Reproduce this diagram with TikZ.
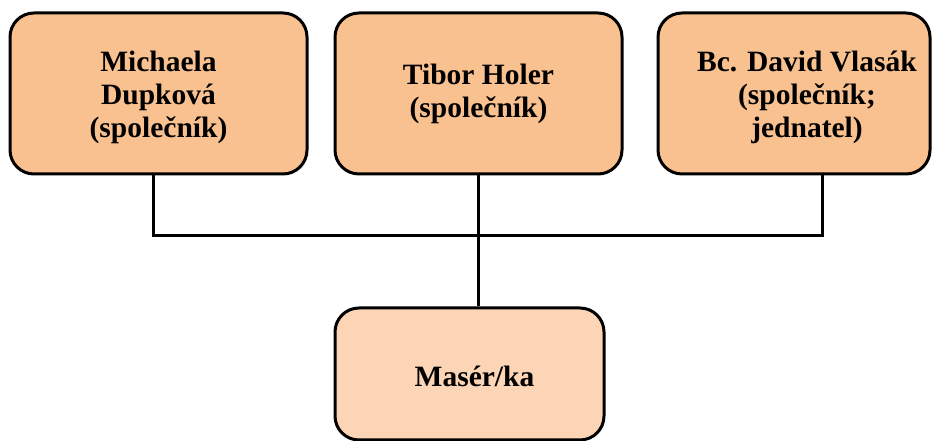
\documentclass[tikz,border=0pt]{standalone}
\usepackage{fontspec}
\setmainfont{Liberation Serif}
\definecolor{topfill}{HTML}{F9C18F}
\definecolor{botfill}{HTML}{FBD5B5}
\begin{document}
\begin{tikzpicture}[x=1pt,y=1pt,
  box/.style={draw=black, line width=3pt, rounded corners=24pt, inner sep=0pt},
  txt/.style={inner sep=0pt, align=center, font=\fontsize{29.5}{33}\selectfont\bfseries},
  conn/.style={draw=black, line width=3pt}]
\useasboundingbox (0,0) rectangle (936,441);
\node[box, fill=topfill, minimum width=297pt, minimum height=161pt] (b1) at (158.5,347.5) {};
\node[box, fill=topfill, minimum width=287pt, minimum height=161pt] (b2) at (478.5,347.5) {};
\node[box, fill=topfill, minimum width=272pt, minimum height=161pt] (b3) at (794,347.5) {};
\node[box, fill=botfill, minimum width=269pt, minimum height=132pt] (b4) at (469.5,67) {};
\node[txt] (t1) at ([yshift=-4pt]b1.center) {Michaela\\Dupková\\(společník)};
\node[txt] (t2) at (b2.center) {Tibor Holer\\(společník)};
\node[txt] (t3) at ([xshift=13pt,yshift=-4pt]b3.center) {Bc. David Vlasák\\(společník;\\jednatel)};
\node[txt] (t4) at ([xshift=5pt,yshift=-2pt]b4.center) {Masér/ka};
\coordinate (mid) at (478,205);
\draw[conn] (b1.south -| 153,0) |- (mid) -| (b3.south -| 822,0);
\draw[conn] (b2.south -| mid) -- (b4.north -| mid);
\end{tikzpicture}
\end{document}
